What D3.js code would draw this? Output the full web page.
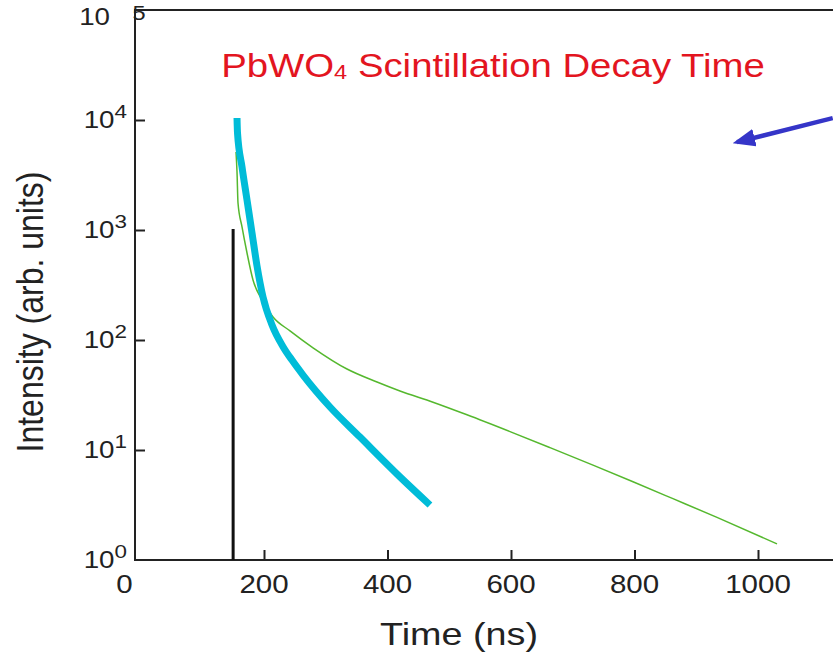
<!DOCTYPE html>
<html>
<head>
<meta charset="utf-8">
<script src="https://cdn.jsdelivr.net/npm/d3@7"></script>
<style>
  body { margin: 0; background: #fff; }
  svg { display: block; font-family: "Liberation Sans", Arial, sans-serif; }
</style>
</head>
<body>
<div id="chart"></div>
<script>
// values (time in ns, intensity in arb. units)
const fastTime = [156.3, 157.1, 164.4, 172.5, 180.6, 188.7, 198.4, 213, 230.8, 245, 263.2, 306.9, 355.5, 420.2, 468.8]
const fastIntensity = [10430, 7620, 3740, 1875, 940, 471, 246, 137, 87, 66, 48, 24.6, 13.1, 5.7, 3.16]

const slowTime = [154.7, 156.3, 157.9, 164.4, 172.5, 182.2, 196.8, 214.6, 242.1, 279.4, 334.4, 383, 420.2, 473.7, 528.7, 598.4, 663.2, 732.8, 797.6, 862.3, 933.6, 1030.8]
const slowIntensity = [5120, 3370, 1760, 1065, 618, 351, 231, 162, 121, 85, 54.5, 41.5, 34.4, 27.2, 20.9, 14.7, 10.5, 7.28, 5.14, 3.61, 2.44, 1.40]

const pulseTime = [150]
const pulseIntensity = [1020]

const xTicks = [0, 200, 400, 600, 800, 1000]
const yTicks = [1, 10, 100, 1000, 10000]
const yExponents = ['0', '1', '2', '3', '4']

// arrow annotation, in data coordinates: [tail, tip]
const arrowTime = [1121, 966]
const arrowIntensity = [10400, 6300]

const width = 833, height = 655
const stretch = 1.18   // text in the picture is drawn a bit wide

const svg = d3.select('#chart').append('svg')
    .attr('width', width)
    .attr('height', height)

const x = d3.scaleLinear().domain([0, 1000]).range([140.5, 758])
const y = d3.scaleLog().domain([1, 1e5]).range([560, 10])
const left = 135, right = 860

// frame
svg.append('path')
    .attr('d', `M${right},${y(1e5)}H${left}V${y(1)}H${right}`)
    .attr('fill', 'none')
    .attr('stroke', '#222')
    .attr('stroke-width', 2)

// inward ticks
svg.append('g')
    .attr('transform', `translate(0,${y(1)})`)
    .call(d3.axisBottom(x).tickValues(xTicks.filter(d => d > 0)).tickSize(-10).tickFormat(''))
    .call(g => g.select('.domain').remove())
    .call(g => g.selectAll('line').attr('stroke', '#222').attr('stroke-width', 2))

svg.append('g')
    .attr('transform', `translate(${left},0)`)
    .call(d3.axisLeft(y).tickValues(yTicks.filter(d => d > 1)).tickSize(-10).tickFormat(''))
    .call(g => g.select('.domain').remove())
    .call(g => g.selectAll('line').attr('stroke', '#222').attr('stroke-width', 2))

// x tick labels (the "0" sits a little left of its position in the original)
svg.selectAll('.xlab')
    .data(xTicks)
    .join('g')
    .attr('class', 'xlab')
    .attr('transform', d => `translate(${d === 0 ? x(0) - 16 : x(d)},593) scale(${stretch},1)`)
    .append('text')
    .attr('text-anchor', 'middle')
    .attr('font-size', 25)
    .attr('fill', '#222')
    .text(d => d)

// y tick labels: 10 with superscript exponent
const ylab = svg.selectAll('.ylab')
    .data(yTicks)
    .join('g')
    .attr('class', 'ylab')
    .attr('transform', d => `translate(127,${y(d) + 8}) scale(${stretch},1)`)
    .append('text')
    .attr('text-anchor', 'end')
    .attr('fill', '#222')
ylab.append('tspan').attr('font-size', 23.5).text('10')
ylab.append('tspan').attr('font-size', 19).attr('dy', -10).text((d, i) => yExponents[i])

// top label drawn as "10   5" like the original
svg.append('g')
    .attr('transform', `translate(110,${y(1e5) + 15}) scale(${stretch},1)`)
    .append('text')
    .attr('text-anchor', 'end')
    .attr('font-size', 23.5)
    .attr('fill', '#222')
    .text('10')
svg.append('g')
    .attr('transform', `translate(139,${y(1e5) + 10}) scale(${stretch},1)`)
    .append('text')
    .attr('text-anchor', 'middle')
    .attr('font-size', 20)
    .attr('fill', '#222')
    .text('5')

// axis titles
svg.append('g')
    .attr('transform', `translate(459,645) scale(${stretch},1)`)
    .append('text')
    .attr('text-anchor', 'middle')
    .attr('font-size', 32)
    .attr('fill', '#222')
    .text('Time (ns)')

svg.append('g')
    .attr('transform', `translate(43,312) scale(${stretch},1) rotate(-90)`)
    .append('text')
    .attr('text-anchor', 'middle')
    .attr('font-size', 32)
    .attr('fill', '#222')
    .text('Intensity (arb. units)')

// chart title
const title = svg.append('g')
    .attr('transform', `translate(493,77) scale(${stretch},1)`)
    .append('text')
    .attr('text-anchor', 'middle')
    .attr('font-size', 32.5)
    .attr('fill', '#e3151f')
title.append('tspan').text('PbWO')
title.append('tspan').attr('font-size', 20).attr('dy', 2).text('4')
title.append('tspan').attr('dy', -2).text(' Scintillation Decay Time')

// data
const line = d3.line()
    .x(d => x(d[0]))
    .y(d => y(d[1]))
    .curve(d3.curveMonotoneX)

svg.append('path')
    .datum(d3.zip(slowTime, slowIntensity))
    .attr('d', line)
    .attr('fill', 'none')
    .attr('stroke', '#55b82e')
    .attr('stroke-width', 1.5)

svg.append('path')
    .datum(d3.zip(fastTime, fastIntensity))
    .attr('d', line)
    .attr('fill', 'none')
    .attr('stroke', '#00bcd8')
    .attr('stroke-width', 7)

svg.selectAll('.pulse')
    .data(d3.zip(pulseTime, pulseIntensity))
    .join('line')
    .attr('class', 'pulse')
    .attr('x1', d => x(d[0]))
    .attr('x2', d => x(d[0]))
    .attr('y1', d => y(d[1]))
    .attr('y2', y(1))
    .attr('stroke', '#111')
    .attr('stroke-width', 3)

// blue arrow
svg.append('defs').append('marker')
    .attr('id', 'head')
    .attr('viewBox', '0 0 10 8')
    .attr('refX', 8)
    .attr('refY', 4)
    .attr('markerWidth', 5)
    .attr('markerHeight', 4)
    .attr('markerUnits', 'strokeWidth')
    .attr('orient', 'auto')
    .append('path')
    .attr('d', 'M0,0L10,4L0,8z')
    .attr('fill', '#3535c8')

svg.append('path')
    .datum(d3.zip(arrowTime, arrowIntensity))
    .attr('d', d3.line().x(d => x(d[0])).y(d => y(d[1])))
    .attr('fill', 'none')
    .attr('stroke', '#3535c8')
    .attr('stroke-width', 4.5)
    .attr('marker-end', 'url(#head)')
</script>
</body>
</html>
